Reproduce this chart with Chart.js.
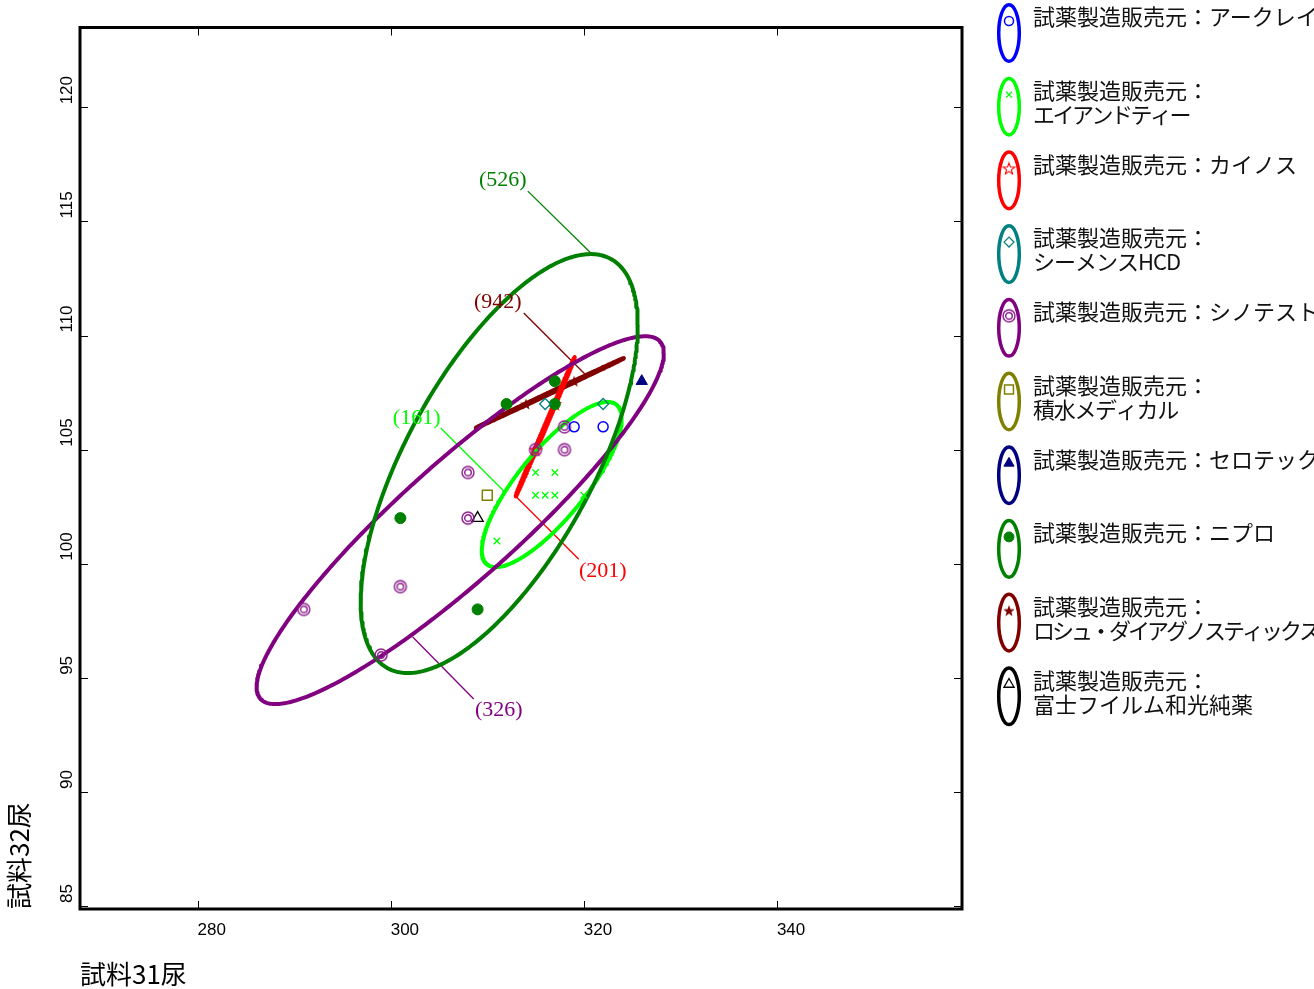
<!DOCTYPE html>
<html lang="ja">
<head>
<meta charset="utf-8">
<title>試料31尿・試料32尿</title>
<script src="https://cdn.jsdelivr.net/npm/chart.js@4.4.1/dist/chart.umd.min.js"></script>
<style>
  html, body { margin: 0; padding: 0; background: #fff; overflow: hidden; }
  canvas { display: block; }
</style>
</head>
<body>
<canvas id="chart" width="1314" height="989"></canvas>
<script>
// ---------------- data ----------------
const makers = ['アークレイ', 'エイアンドティー', 'カイノス', 'シーメンスHCD', 'シノテスト',
                '積水メディカル', 'セロテック', 'ニプロ', 'ロシュ・ダイアグノスティックス', '富士フイルム和光純薬'];

// 試料31尿 (x) / 試料32尿 (y) results per reagent maker
const arkrayX    = [319, 322];
const arkrayY    = [106, 106];
const andX       = [315, 317, 315, 316, 317, 320, 311];
const andY       = [104, 104, 103, 103, 103, 103, 101];
const kainosX    = [315, 317];
const kainosY    = [105, 107];
const siemensX   = [316, 322];
const siemensY   = [107, 107];
const shinotestX = [318, 315, 318, 308, 308, 301, 291, 299];
const shinotestY = [106, 105, 105, 104, 102, 99, 98, 96];
const sekisuiX   = [310];
const sekisuiY   = [103];
const serotecX   = [326];
const serotecY   = [108];
const nipuroX    = [312, 317, 317, 301, 309];
const nipuroY    = [107, 108, 107, 102, 98];
const rocheX     = [314, 319];
const rocheY     = [107, 108];
const fujiX      = [309];
const fujiY      = [102];

// probability ellipses: group, n, mean, half extents and correlation
const ellipseMaker = ['ニプロ', 'シノテスト', 'エイアンドティー', 'カイノス', 'ロシュ・ダイアグノスティックス'];
const ellipseN     = [526, 326, 161, 201, 942];
const ellipseMeanX = [311.24, 307.2, 316.68, 316.0, 316.48];
const ellipseMeanY = [104.39, 101.91, 103.47, 106.0, 107.48];
const ellipseHalfX = [14.35, 21.09, 7.25, 3.06, 7.67];
const ellipseHalfY = [9.18, 8.06, 3.62, 3.05, 1.53];
const ellipseR     = [0.66, 0.908, 0.80, 0.9995, 0.9995];

// axis ticks
const xTicks = [280, 300, 320, 340];
const yTicks = [85, 90, 95, 100, 105, 110, 115, 120];

// ---------------- styles ----------------
const makerColors = ['#0000FF', '#00FF00', '#FF0000', '#008080', '#800080',
                     '#808000', '#000080', '#008000', '#800000', '#000000'];

function starCanvas(color, filled) {
  const c = document.createElement('canvas');
  c.width = 14; c.height = 14;
  const g = c.getContext('2d');
  g.beginPath();
  for (let k = 0; k < 10; k++) {
    const rr = k % 2 ? 2.5 : 6;
    const ang = -Math.PI / 2 + k * Math.PI / 5;
    g.lineTo(7 + rr * Math.cos(ang), 7.6 + rr * Math.sin(ang));
  }
  g.closePath();
  if (filled) { g.fillStyle = color; g.fill(); }
  else { g.strokeStyle = color; g.lineWidth = 1.1; g.stroke(); }
  return c;
}
function doubleCircleCanvas(color) {
  const c = document.createElement('canvas');
  c.width = 16; c.height = 16;
  const g = c.getContext('2d');
  g.strokeStyle = color; g.lineWidth = 1.4;
  g.beginPath(); g.arc(8, 8, 6, 0, Math.PI * 2); g.stroke();
  g.beginPath(); g.arc(8, 8, 3.3, 0, Math.PI * 2); g.stroke();
  return c;
}

const markerStyles = [
  { pointStyle: 'circle',   radius: 5,   borderWidth: 1.5, fill: false },
  { pointStyle: 'crossRot', radius: 4.6, borderWidth: 1.3, fill: false },
  { pointStyle: starCanvas('#FF0000', false), radius: 6, borderWidth: 1, fill: false },
  { pointStyle: 'rectRot',  radius: 5.5, borderWidth: 1.3, fill: false },
  { pointStyle: doubleCircleCanvas('#8B1A8B'), radius: 6, borderWidth: 1, fill: false },
  { pointStyle: 'rect',     radius: 7,   borderWidth: 1.5, fill: false },
  { pointStyle: 'triangle', radius: 6.5, borderWidth: 1,   fill: true },
  { pointStyle: 'circle',   radius: 5.5, borderWidth: 1,   fill: true },
  { pointStyle: starCanvas('#800000', true), radius: 6, borderWidth: 1, fill: true },
  { pointStyle: 'triangle', radius: 6.5, borderWidth: 1.3, fill: false }
];

// count labels with leader lines (data units)
const notes = [
  { maker: 'ニプロ', label: [311.61, 116.81], from: [314.20, 116.33], to: [320.73, 113.62], color: '#008000' },
  { maker: 'ロシュ・ダイアグノスティックス', label: [311.09, 111.47], from: [313.78, 110.99], to: [320.21, 108.27], color: '#800000' },
  { maker: 'エイアンドティー', label: [302.69, 106.38], from: [305.18, 105.95], to: [311.71, 103.19], color: '#00FF00' },
  { maker: 'カイノス', label: [321.97, 99.68], from: [312.95, 102.96], to: [319.48, 100.20], color: '#FF0000' },
  { maker: 'シノテスト', label: [311.19, 93.59], from: [302.28, 96.79], to: [308.60, 94.07], color: '#800080' }
];

// ---------------- datasets ----------------
const seriesX = [arkrayX, andX, kainosX, siemensX, shinotestX, sekisuiX, serotecX, nipuroX, rocheX, fujiX];
const seriesY = [arkrayY, andY, kainosY, siemensY, shinotestY, sekisuiY, serotecY, nipuroY, rocheY, fujiY];

const datasets = [];

makers.forEach((name, i) => {
  const st = markerStyles[i];
  datasets.push({
    label: name,
    data: seriesX[i].map((x, k) => ({ x, y: seriesY[i][k] })),
    pointStyle: st.pointStyle,
    pointRadius: st.radius,
    pointBorderWidth: st.borderWidth,
    borderColor: makerColors[i],
    backgroundColor: st.fill ? makerColors[i] : 'rgba(0,0,0,0)',
    showLine: false,
    order: name === 'カイノス' ? 2 : 1
  });
});

function ellipseOutline(cx, cy, ax, by, r) {
  const pts = [];
  const s = Math.sqrt(1 - r * r);
  const steps = 360;
  for (let k = 0; k <= steps; k++) {
    const t = (k / steps) * Math.PI * 2;
    pts.push({ x: cx + ax * Math.cos(t), y: cy + by * (r * Math.cos(t) + s * Math.sin(t)) });
  }
  return pts;
}

ellipseMaker.forEach((name, j) => {
  const i = makers.indexOf(name);
  datasets.push({
    label: name + ' 楕円',
    data: ellipseOutline(ellipseMeanX[j], ellipseMeanY[j], ellipseHalfX[j], ellipseHalfY[j], ellipseR[j]),
    showLine: true,
    borderColor: makerColors[i],
    borderWidth: 4,
    borderJoinStyle: 'round',
    borderCapStyle: 'round',
    pointRadius: 0,
    fill: false,
    tension: 0,
    order: 3
  });
});

notes.forEach(n => {
  datasets.push({
    label: n.maker + ' 引出線',
    data: [{ x: n.from[0], y: n.from[1] }, { x: n.to[0], y: n.to[1] }],
    showLine: true,
    borderColor: n.color,
    borderWidth: 1.3,
    pointRadius: 0,
    order: 4
  });
});

// ---------------- plugins ----------------
const framePlugin = {
  id: 'frame',
  afterDraw(chart) {
    const { ctx, chartArea: a, scales: { x, y } } = chart;
    ctx.save();
    ctx.strokeStyle = '#000';
    ctx.lineWidth = 1;
    ctx.beginPath();
    xTicks.forEach(v => {
      const px = Math.round(x.getPixelForValue(v)) + 0.5;
      ctx.moveTo(px, a.bottom); ctx.lineTo(px, a.bottom - 8);
      ctx.moveTo(px, a.top); ctx.lineTo(px, a.top + 8);
    });
    yTicks.forEach(v => {
      const py = Math.round(y.getPixelForValue(v)) + 0.5;
      ctx.moveTo(a.left, py); ctx.lineTo(a.left + 8, py);
      ctx.moveTo(a.right, py); ctx.lineTo(a.right - 8, py);
    });
    ctx.stroke();
    ctx.lineWidth = 3;
    ctx.strokeRect(a.left, a.top, a.right - a.left, a.bottom - a.top);
    ctx.restore();
  }
};

const notePlugin = {
  id: 'notes',
  afterDatasetsDraw(chart) {
    const { ctx, scales: { x, y } } = chart;
    ctx.save();
    ctx.font = '22px "Liberation Serif", "DejaVu Serif", serif';
    ctx.textAlign = 'center';
    ctx.textBaseline = 'middle';
    notes.forEach(n => {
      const j = ellipseMaker.indexOf(n.maker);
      ctx.fillStyle = n.color;
      ctx.fillText('(' + ellipseN[j] + ')', x.getPixelForValue(n.label[0]), y.getPixelForValue(n.label[1]));
    });
    ctx.restore();
  }
};

// legend names set on a second line, with tighter kana spacing
const secondLineSpacing = {
  'エイアンドティー': -2.5,
  'シーメンスHCD': -1,
  '積水メディカル': -1.3,
  'ロシュ・ダイアグノスティックス': -3,
  '富士フイルム和光純薬': 0
};

const legendPlugin = {
  id: 'sideLegend',
  afterDraw(chart) {
    const ctx = chart.ctx;
    const iconX = 1009, textX = 1033, top = 33, step = 73.7;
    ctx.save();
    makers.forEach((name, i) => {
      const cy = top + step * i;
      ctx.strokeStyle = makerColors[i];
      ctx.lineWidth = 3.5;
      ctx.beginPath();
      ctx.ellipse(iconX, cy, 10.3, 28.3, 0, 0, Math.PI * 2);
      ctx.stroke();

      const st = markerStyles[i];
      ctx.strokeStyle = makerColors[i];
      ctx.fillStyle = st.fill ? makerColors[i] : 'rgba(0,0,0,0)';
      ctx.lineWidth = st.borderWidth;
      Chart.helpers.drawPoint(ctx, { pointStyle: st.pointStyle, radius: st.radius * 0.9, borderWidth: st.borderWidth, rotation: 0 }, iconX, cy - 12);

      ctx.fillStyle = '#111';
      ctx.font = '22px "Noto Sans CJK JP", sans-serif';
      ctx.textAlign = 'left';
      ctx.textBaseline = 'middle';
      if (name in secondLineSpacing) {
        ctx.fillText('試薬製造販売元：', textX, cy - 16);
        ctx.letterSpacing = secondLineSpacing[name] + 'px';
        ctx.fillText(name, textX, cy + 8);
        ctx.letterSpacing = '0px';
      } else {
        ctx.fillText('試薬製造販売元：' + name, textX, cy - 16);
      }
    });
    ctx.restore();
  }
};

// ---------------- chart ----------------
new Chart(document.getElementById('chart'), {
  type: 'scatter',
  data: { datasets },
  options: {
    responsive: false,
    animation: false,
    events: [],
    layout: { padding: { top: 27.5, right: 352, bottom: 0, left: 0 } },
    plugins: { legend: { display: false }, tooltip: { enabled: false } },
    scales: {
      x: {
        type: 'linear',
        min: 267.82,
        max: 359.17,
        afterBuildTicks: s => { s.ticks = xTicks.map(v => ({ value: v })); },
        afterFit: s => { s.height = 80; },
        grid: { display: false, drawTicks: false },
        border: { display: false },
        ticks: {
          align: 'start', padding: 11, autoSkip: false, maxRotation: 0,
          color: '#000', font: { family: 'Liberation Sans', size: 17 }
        },
        title: {
          display: true, text: '試料31尿', align: 'start', color: '#000',
          font: { family: 'Noto Sans CJK JP', size: 26 }, padding: { top: 0, bottom: -1 }
        }
      },
      y: {
        type: 'linear',
        min: 84.87,
        max: 123.5,
        afterBuildTicks: s => { s.ticks = yTicks.map(v => ({ value: v })); },
        afterFit: s => { s.width = 80; },
        grid: { display: false, drawTicks: false },
        border: { display: false },
        ticks: {
          mirror: true, padding: -12.5, crossAlign: 'near', labelOffset: -3,
          minRotation: 90, maxRotation: 90, autoSkip: false,
          color: '#000', font: { family: 'Liberation Sans', size: 17 }
        },
        title: {
          display: true, text: '試料32尿', align: 'start', color: '#000',
          font: { family: 'Noto Sans CJK JP', size: 26 }, padding: { top: 4, bottom: 0 }
        }
      }
    }
  },
  plugins: [framePlugin, notePlugin, legendPlugin]
});
</script>
</body>
</html>
